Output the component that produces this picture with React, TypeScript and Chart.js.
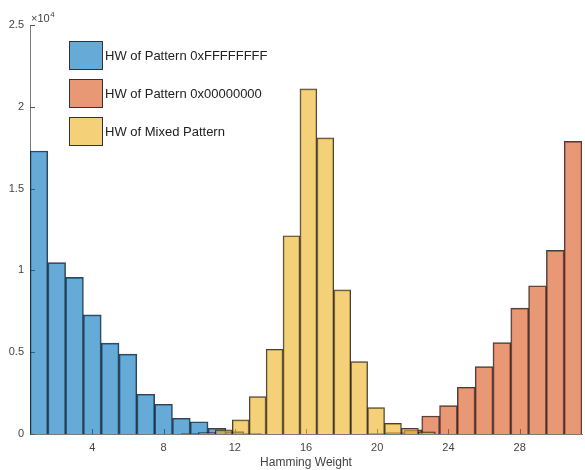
import React, { useEffect, useRef } from "react";
import { Chart, registerables } from "chart.js";

Chart.register(...registerables);

// ---- data ----
const blueBins = [1, 2, 3, 4, 5, 6, 7, 8, 9, 10, 11, 12, 13];
const blueCounts = [17300, 10480, 9570, 7280, 5550, 4880, 2430, 1820, 960, 750, 350, 150, 30];

const yellowBins = [9.485, 10.435, 11.385, 12.335, 13.285, 14.235, 15.185, 16.135, 17.085, 18.035, 18.985, 19.935, 20.885, 21.835, 22.785];
const yellowCounts = [30, 80, 250, 860, 2280, 5180, 12120, 21100, 18100, 8810, 4420, 1610, 650, 350, 140];

const orangeBins = [20, 21, 22, 23, 24, 25, 26, 27, 28, 29, 30, 31];
const orangeCounts = [20, 90, 250, 1100, 1730, 2860, 4120, 5590, 7690, 9060, 11220, 17890];

const xTickValues = [4, 8, 12, 16, 20, 24, 28];
const yTickValues = [0, 5000, 10000, 15000, 20000, 25000];

const seriesLabels = ["HW of Pattern 0xFFFFFFFF", "HW of Pattern 0x00000000", "HW of Mixed Pattern"];
const xTitle = "Hamming Weight";
const exponentBase = "\u00d710";
const exponentPower = "4";

// ---- styles ----
const FONT = "'Liberation Sans', Arial, Helvetica, sans-serif";
const BLUE = "rgba(0,114,189,0.6)";
const ORANGE = "rgba(217,83,25,0.6)";
const YELLOW = "rgba(237,177,32,0.6)";
const EDGE = "rgba(15,15,25,0.8)";
const AXIS = "#7a7a7a";
const TEXT = "#444444";

const toPts = (xs: number[], ys: number[]) => xs.map((x, i) => ({ x, y: ys[i] }));

const decorPlugin = {
  id: "decor",
  beforeDatasetsDraw(chart: any) {
    const { ctx, chartArea, scales } = chart;
    ctx.save();
    ctx.strokeStyle = "#555";
    ctx.lineWidth = 1;
    ctx.beginPath();
    for (const v of xTickValues) {
      const px = Math.round(scales.x.getPixelForValue(v)) + 0.5;
      ctx.moveTo(px, chartArea.bottom);
      ctx.lineTo(px, chartArea.bottom - 5);
    }
    for (const v of yTickValues) {
      const py = Math.round(scales.y.getPixelForValue(v)) + 0.5;
      ctx.moveTo(chartArea.left, py);
      ctx.lineTo(chartArea.left + 5, py);
    }
    ctx.stroke();
    ctx.restore();
  },
  afterDraw(chart: any) {
    const { ctx, chartArea } = chart;
    ctx.save();
    // exponent label
    ctx.fillStyle = TEXT;
    ctx.textAlign = "left";
    ctx.textBaseline = "alphabetic";
    ctx.font = `11px ${FONT}`;
    const bx = chartArea.left + 1;
    ctx.fillText(exponentBase, bx, chartArea.top - 3);
    const w = ctx.measureText(exponentBase).width;
    ctx.font = `8px ${FONT}`;
    ctx.fillText(exponentPower, bx + w + 0.5, chartArea.top - 8);

    // legend
    const colors = chart.data.datasets.map((d: any) => d.backgroundColor);
    const labels = chart.data.datasets.map((d: any) => d.label);
    const px = 69, pw = 33, ph = 28, top0 = 41, step = 37.8;
    ctx.font = `13px ${FONT}`;
    ctx.textBaseline = "middle";
    for (let i = 0; i < labels.length; i++) {
      const y = Math.round(top0 + i * step);
      ctx.fillStyle = "#ffffff";
      ctx.fillRect(px, y, pw, ph);
      ctx.fillStyle = colors[i];
      ctx.fillRect(px, y, pw, ph);
      ctx.strokeStyle = "#333";
      ctx.lineWidth = 1;
      ctx.strokeRect(px + 0.5, y + 0.5, pw, ph);
      ctx.fillStyle = "#222222";
      ctx.fillText(labels[i], px + pw + 3, y + ph / 2 + 1);
    }
    ctx.restore();
  },
};

export default function App() {
  const ref = useRef<HTMLCanvasElement>(null);

  useEffect(() => {
    document.body.style.margin = "0";
    if (!ref.current) return;

    const hiddenX = () => ({
      type: "linear",
      display: false,
      min: 0.5,
      max: 31.5,
      offset: false,
      grid: { offset: false },
      afterBuildTicks: (s: any) => {
        s.ticks = xTickValues.map((v) => ({ value: v }));
      },
    });

    const barCommon = {
      borderColor: EDGE,
      borderWidth: 1,
      barPercentage: 1,
      categoryPercentage: 1,
      grouped: false,
    };

    const chart = new Chart(ref.current, {
      type: "bar",
      data: {
        datasets: [
          { ...barCommon, label: seriesLabels[0], data: toPts(blueBins, blueCounts), xAxisID: "x", backgroundColor: BLUE, order: 3 },
          { ...barCommon, label: seriesLabels[1], data: toPts(orangeBins, orangeCounts), xAxisID: "x3", backgroundColor: ORANGE, order: 2 },
          { ...barCommon, label: seriesLabels[2], data: toPts(yellowBins, yellowCounts), xAxisID: "x2", backgroundColor: YELLOW, order: 1 },
        ] as any,
      },
      options: {
        animation: false,
        responsive: false,
        maintainAspectRatio: false,
        devicePixelRatio: 1,
        layout: { padding: { top: 25, right: 3, left: 0, bottom: 0 } },
        plugins: { legend: { display: false }, tooltip: { enabled: false } },
        scales: {
          x: {
            type: "linear",
            min: 0.5,
            max: 31.5,
            offset: false,
            grid: { display: false, drawTicks: false, offset: false },
            border: { display: true, color: AXIS, width: 1 },
            afterBuildTicks: (s: any) => {
              s.ticks = xTickValues.map((v) => ({ value: v }));
            },
            afterFit: (s: any) => {
              s.height = 36;
            },
            ticks: {
              padding: 7,
              color: TEXT,
              font: { family: FONT, size: 11 },
              maxRotation: 0,
              autoSkip: false,
              callback: (v: any) => String(v),
            },
            title: {
              display: true,
              text: xTitle,
              color: TEXT,
              font: { family: FONT, size: 12 },
              padding: { top: 0, bottom: 0 },
            },
          },
          x2: hiddenX(),
          x3: hiddenX(),
          y: {
            type: "linear",
            min: 0,
            max: 25000,
            grid: { display: false, drawTicks: false },
            border: { display: true, color: AXIS, width: 1 },
            afterBuildTicks: (s: any) => {
              s.ticks = yTickValues.map((v) => ({ value: v }));
            },
            afterFit: (s: any) => {
              s.width = 30;
            },
            ticks: {
              padding: 6,
              color: TEXT,
              font: { family: FONT, size: 11 },
              callback: (v: any) => String(Number(v) / 10000),
            },
          },
        } as any,
      },
      plugins: [decorPlugin as any],
    });

    return () => chart.destroy();
  }, []);

  return (
    <div style={{ width: 585, height: 470 }}>
      <canvas ref={ref} width={585} height={470} style={{ display: "block" }} />
    </div>
  );
}
